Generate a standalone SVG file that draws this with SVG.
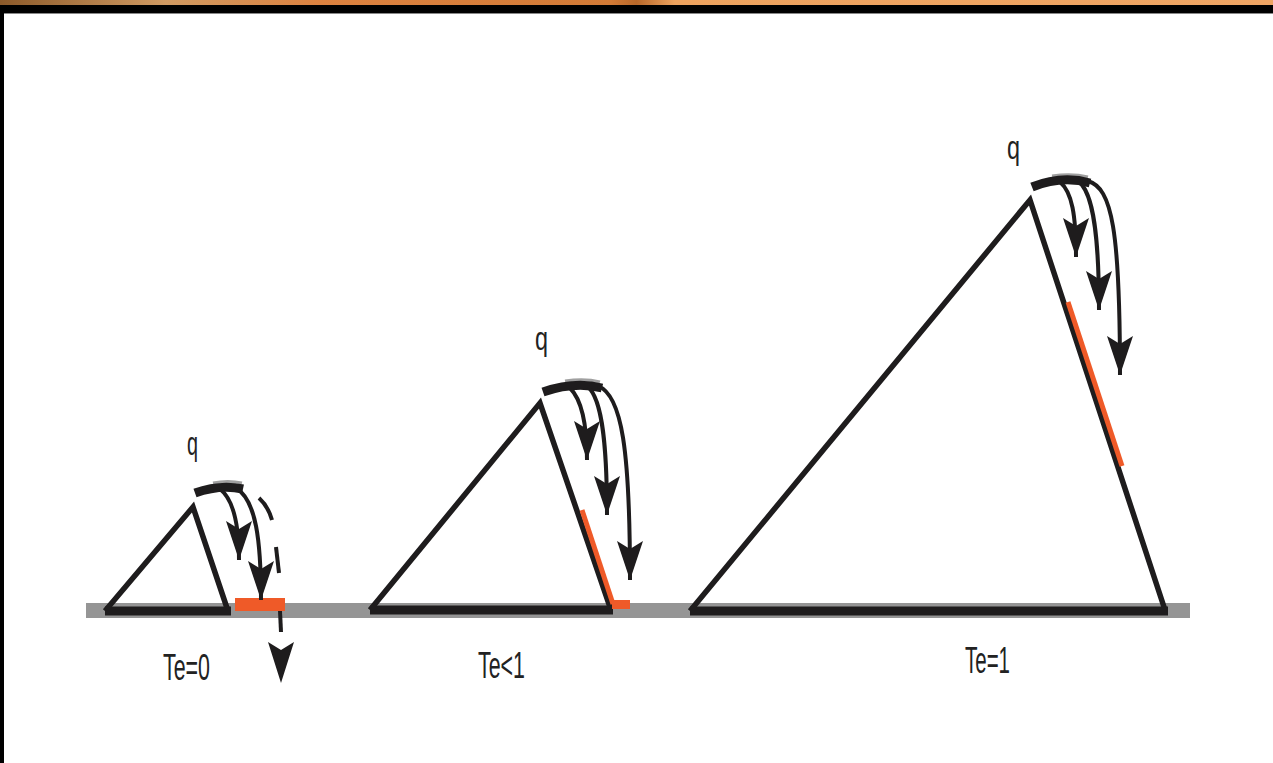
<svg xmlns="http://www.w3.org/2000/svg" xmlns:xlink="http://www.w3.org/1999/xlink" width="1273" height="763" viewBox="0 0 1273 763">
<style>
.lbl{font-family:"Liberation Sans",Arial,sans-serif;fill:#222;}
.tri{fill:none;stroke:#1e1c1d;stroke-width:5.5;stroke-linejoin:miter;stroke-linecap:butt;}
.base{stroke:#1e1c1d;stroke-width:9;}
.cap{fill:none;stroke:#1e1c1d;stroke-width:9;stroke-linecap:butt;}
.hl{fill:none;stroke:#a0a0a0;stroke-width:3;}
.arr{fill:none;stroke:#1e1c1d;stroke-width:4;marker-end:url(#ah);}
.dash{fill:none;stroke:#1e1c1d;stroke-width:4;}
.org{stroke:#ef5a28;stroke-width:5;fill:none;}
</style>
<defs>
<linearGradient id="band" x1="0" x2="1" y1="0" y2="0">
<stop offset="0" stop-color="#8c5a2a"/>
<stop offset="0.13" stop-color="#d09a62"/>
<stop offset="0.25" stop-color="#dc8240"/>
<stop offset="0.48" stop-color="#d27a36"/>
<stop offset="0.5" stop-color="#b8682a"/>
<stop offset="0.53" stop-color="#eda25e"/>
<stop offset="1" stop-color="#efa564"/>
</linearGradient>
<marker id="ah" markerUnits="userSpaceOnUse" markerWidth="42" markerHeight="30" viewBox="0 -14 42 28" refX="39" refY="0" orient="auto">
<path d="M0,-13 L8,0 L0,13 L39,0 Z" fill="#1e1c1d"/>
</marker>
<path id="head" d="M0,0 L-13,-41 L0,-33 L13,-41 Z" fill="#1e1c1d"/>
</defs>
<rect x="0" y="0" width="1273" height="763" fill="#ffffff"/>
<rect x="0" y="0" width="1273" height="5" fill="url(#band)"/>
<rect x="0" y="5" width="1273" height="8" fill="#000"/>
<rect x="0" y="13" width="1273" height="1" fill="#888"/>
<rect x="0" y="5" width="4" height="758" fill="#000"/>

<rect id="ground" x="86" y="603" width="1104" height="15" fill="#959595"/>

<g id="node-small">
<path class="tri" d="M105,611 L193,507 L228,611"/>
<line class="base" x1="105" y1="611" x2="231" y2="611"/>
<path class="hl" d="M213,483 Q228,480 242,483"/>
<path class="cap" d="M195,493 Q220,484 243,489"/>
<rect x="235" y="598" width="50" height="13" fill="#ef5a28"/>
<text class="lbl" x="187" y="455" font-size="33" textLength="11" lengthAdjust="spacingAndGlyphs">q</text>
<text class="lbl" x="163" y="680" font-size="37" textLength="47" lengthAdjust="spacingAndGlyphs">Te=0</text>
</g>

<g id="node-middle">
<path class="tri" d="M370,610 L540,403 L610,607"/>
<line class="base" x1="370" y1="610" x2="613" y2="610"/>
<path class="hl" d="M565,381 Q585,378 600,382"/>
<path class="cap" d="M543,392 Q575,381 602,388"/>
<line class="org" x1="582" y1="510" x2="613" y2="604"/>
<rect x="612" y="600" width="18" height="9" fill="#ef5a28"/>
<text class="lbl" x="535" y="350" font-size="33" textLength="13" lengthAdjust="spacingAndGlyphs">q</text>
<text class="lbl" x="478" y="678" font-size="37" textLength="47" lengthAdjust="spacingAndGlyphs">Te&lt;1</text>
</g>

<g id="node-large">
<path class="tri" d="M690,611 L1030,200 L1165,610"/>
<line class="base" x1="690" y1="611" x2="1168" y2="611"/>
<path class="hl" d="M1052,176 Q1072,173 1088,177"/>
<path class="cap" d="M1032,187 Q1062,175 1090,183"/>
<line class="org" x1="1068" y1="302" x2="1122" y2="466"/>
<text class="lbl" x="1007" y="159" font-size="33" textLength="13" lengthAdjust="spacingAndGlyphs">q</text>
<text class="lbl" x="965" y="673" font-size="37" textLength="45" lengthAdjust="spacingAndGlyphs">Te=1</text>
</g>

<g id="connectors">
<path class="arr" d="M220,489 C234,500 239,525 239,560"/>
<path class="arr" d="M236,488 C256,500 261,540 261,600"/>
<path class="dash" d="M259,498 Q268,506 272,520"/>
<path class="dash" d="M276,547 L279,573"/>
<path class="dash" d="M280,611 L281,632"/>
<use xlink:href="#head" transform="translate(281,683)"/>
<path class="arr" d="M570,388 C582,400 587,425 587,460"/>
<path class="arr" d="M588,387 C603,400 607,450 607,515"/>
<path class="arr" d="M598,386 C622,395 630,450 630,580"/>
<path class="arr" d="M1060,182 C1072,192 1076,215 1076,257"/>
<path class="arr" d="M1078,181 C1094,192 1099,240 1099,310"/>
<path class="arr" d="M1088,181 C1112,188 1120,230 1120,375"/>
</g>
</svg>
